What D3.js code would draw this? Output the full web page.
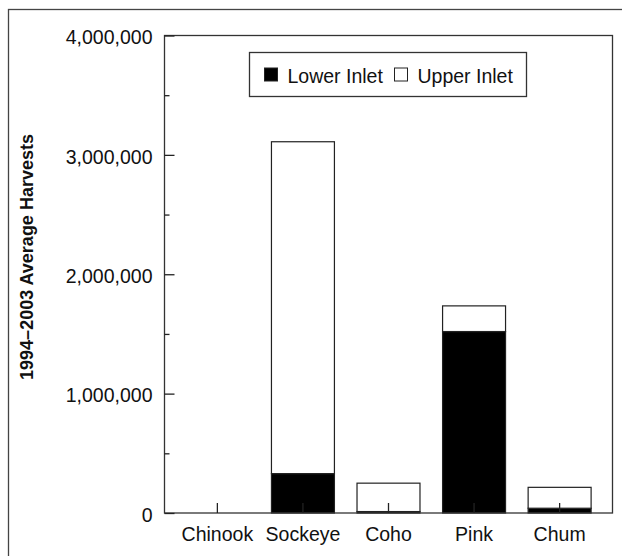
<!DOCTYPE html>
<html>
<head>
<meta charset="utf-8">
<script src="https://cdn.jsdelivr.net/npm/d3@7"></script>
<style>
  body { margin: 0; background: #fff; }
  text { font-family: "Liberation Sans", Arial, sans-serif; fill: #111; }
</style>
</head>
<body>
<svg width="622" height="556"></svg>
<script>
var categories = ["Chinook", "Sockeye", "Coho", "Pink", "Chum"];
var lowerInlet = [0, 330000, 12000, 1520000, 40000];
var upperInlet = [0, 2780000, 238000, 215000, 175000];
var yTicks = [0, 1000000, 2000000, 3000000, 4000000];
var minorTicks = [500000, 1500000, 2500000, 3500000];
var seriesNames = ["Lower Inlet", "Upper Inlet"];

var svg = d3.select("svg"),
    plotLeft = 164.5, plotRight = 612.5, plotTop = 35.5, plotBottom = 513;

var rows = categories.map(function(c, i) {
  return {cat: c, "Lower Inlet": lowerInlet[i], "Upper Inlet": upperInlet[i]};
});
var stacked = d3.stack().keys(seriesNames)(rows);

var x = d3.scaleBand()
    .domain(categories)
    .range([plotLeft, plotRight])
    .paddingInner(0.264)
    .paddingOuter(0.25);

var y = d3.scaleLinear()
    .domain([0, 4000000])
    .range([plotBottom, plotTop]);

var fills = {"Lower Inlet": "#000", "Upper Inlet": "#fff"};

// outer frame
svg.append("rect")
    .attr("x", 8.5).attr("y", 9.5)
    .attr("width", 700).attr("height", 700)
    .attr("fill", "none")
    .attr("stroke", "#444")
    .attr("stroke-width", 1.3);

// bars (skip empty segments)
svg.append("g")
  .selectAll("g")
  .data(stacked)
  .enter().append("g")
    .attr("fill", function(d) { return fills[d.key]; })
  .selectAll("rect")
  .data(function(d) { return d.filter(function(s) { return s[1] > s[0]; }); })
  .enter().append("rect")
    .attr("x", function(d) { return x(d.data.cat); })
    .attr("y", function(d) { return y(d[1]); })
    .attr("width", x.bandwidth())
    .attr("height", function(d) { return y(d[0]) - y(d[1]); })
    .attr("stroke", "#222")
    .attr("stroke-width", 1.2);

// plot frame
svg.append("rect")
    .attr("x", plotLeft).attr("y", plotTop)
    .attr("width", plotRight - plotLeft).attr("height", plotBottom - plotTop)
    .attr("fill", "none")
    .attr("stroke", "#333")
    .attr("stroke-width", 1.3);

// y axis
var yAxis = svg.append("g")
    .attr("transform", "translate(" + plotLeft + ",0)")
    .call(d3.axisLeft(y)
      .tickValues(yTicks)
      .tickSize(-10)
      .tickPadding(12)
      .tickFormat(d3.format(",")));
yAxis.select(".domain").remove();
yAxis.selectAll("line").attr("stroke", "#222").attr("stroke-width", 1.3);
yAxis.selectAll("text")
    .attr("font-size", "19.5px")
    .attr("dy", "0.42em")
    .attr("font-family", "Liberation Sans, Arial, sans-serif");

var yMinor = svg.append("g")
    .attr("transform", "translate(" + plotLeft + ",0)")
    .call(d3.axisLeft(y).tickValues(minorTicks).tickSize(-5).tickFormat(""));
yMinor.select(".domain").remove();
yMinor.selectAll("line").attr("stroke", "#222").attr("stroke-width", 1.3);

// x axis
var xAxis = svg.append("g")
    .attr("transform", "translate(0," + plotBottom + ")")
    .call(d3.axisBottom(x).tickSize(-10).tickPadding(14));
xAxis.select(".domain").remove();
xAxis.selectAll("line").attr("stroke", "#222").attr("stroke-width", 1.3);
xAxis.selectAll("text")
    .attr("font-size", "19.5px")
    .attr("font-family", "Liberation Sans, Arial, sans-serif");

// y label
svg.append("text")
    .attr("transform", "translate(33,257) rotate(-90)")
    .attr("text-anchor", "middle")
    .attr("font-size", "18px")
    .attr("font-weight", "bold")
    .text("1994\u20132003 Average Harvests");

// legend
var legend = svg.append("g");
legend.append("rect")
    .attr("x", 249.5).attr("y", 52.5)
    .attr("width", 277).attr("height", 44)
    .attr("fill", "#fff")
    .attr("stroke", "#333")
    .attr("stroke-width", 1.3);

var legendX = [264.5, 394.5];
var item = legend.selectAll("g.item")
  .data(seriesNames)
  .enter().append("g")
    .attr("class", "item")
    .attr("transform", function(d, i) { return "translate(" + legendX[i] + ",68)"; });
item.append("rect")
    .attr("width", 13).attr("height", 13)
    .attr("fill", function(d) { return fills[d]; })
    .attr("stroke", "#222")
    .attr("stroke-width", 1);
item.append("text")
    .attr("x", 23)
    .attr("y", 14.5)
    .attr("font-size", "19.5px")
    .text(function(d) { return d; });
</script>
</body>
</html>
